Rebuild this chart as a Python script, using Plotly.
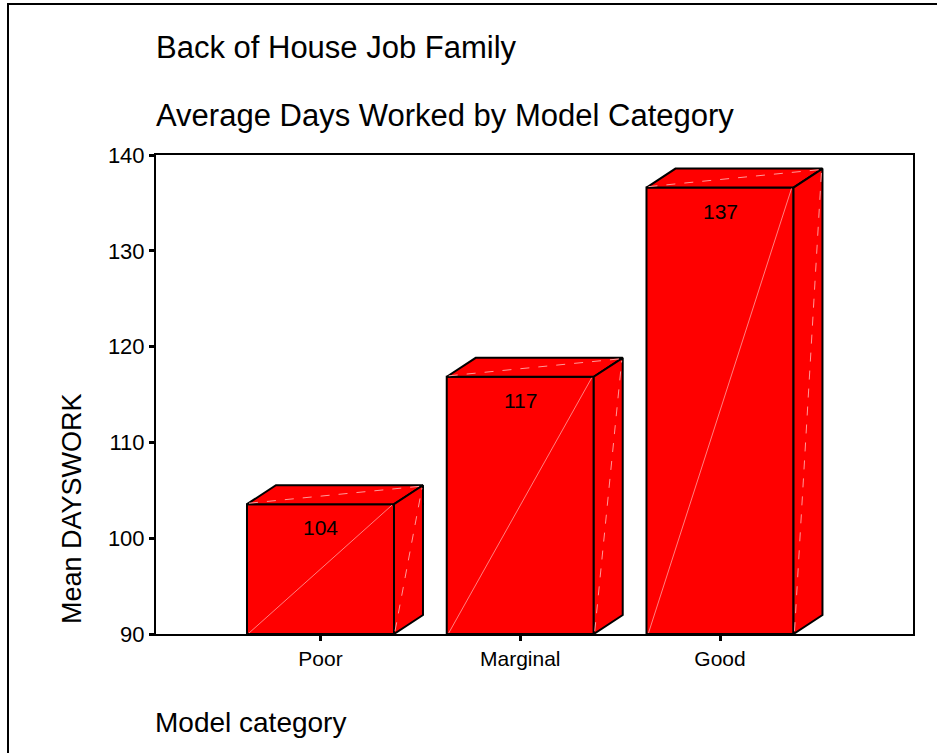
import plotly.graph_objects as go

# ---- data ----
categories = ["Poor", "Marginal", "Good"]
mean_days = [103.55, 116.85, 136.6]
bar_labels = ["104", "117", "137"]
y_ticks = [90, 100, 110, 120, 130, 140]

title1 = "Back of House Job Family"
title2 = "Average Days Worked by Model Category"
x_title = "Model category"
y_title = "Mean DAYSWORK"

# ---- style ----
FONT = "Liberation Sans, Arial, sans-serif"
RED = "#ff0000"
BASE = 90
Y_MAX = 140
HALF_W = 0.368      # half bar width in category units
DX = 0.145          # 3-D depth, x units
DY = 1.98           # 3-D depth, y units

W, H = 937, 753
L, R, T, B = 156, 24, 155, 119
PW, PH = W - L - R, H - T - B

def px_x(p):
    return (p - L) / PW

def px_y(p):
    return (H - B - p) / PH

fig = go.Figure()
xs = list(range(1, len(categories) + 1))

for xc, v in zip(xs, mean_days):
    x0, x1 = xc - HALF_W, xc + HALF_W
    # front face
    fig.add_trace(go.Scatter(
        x=[x0, x1, x1, x0, x0], y=[BASE, BASE, v, v, BASE],
        mode="lines", fill="toself", fillcolor=RED,
        line=dict(color="black", width=2), hoverinfo="skip", showlegend=False))
    # top face
    fig.add_trace(go.Scatter(
        x=[x0, x1, x1 + DX, x0 + DX, x0], y=[v, v, v + DY, v + DY, v],
        mode="lines", fill="toself", fillcolor=RED,
        line=dict(color="black", width=2), hoverinfo="skip", showlegend=False))
    # side face
    fig.add_trace(go.Scatter(
        x=[x1, x1 + DX, x1 + DX, x1, x1], y=[BASE, BASE + DY, v + DY, v, BASE],
        mode="lines", fill="toself", fillcolor=RED,
        line=dict(color="black", width=2), hoverinfo="skip", showlegend=False))
    # faint triangulation seams
    fig.add_trace(go.Scatter(
        x=[x0 + 0.01, x1 - 0.01], y=[BASE + 0.1, v - 0.1], mode="lines",
        line=dict(color="#ff8080", width=1), hoverinfo="skip", showlegend=False))
    fig.add_trace(go.Scatter(
        x=[x0 + 0.01, x1 + DX - 0.01], y=[v + 0.1, v + DY - 0.1], mode="lines",
        line=dict(color="#ff9a9a", width=1, dash="dash"), hoverinfo="skip", showlegend=False))
    fig.add_trace(go.Scatter(
        x=[x1 + 0.005, x1 + DX - 0.005], y=[BASE + 0.3, v + DY - 0.3], mode="lines",
        line=dict(color="#ff9a9a", width=1, dash="dash"), hoverinfo="skip", showlegend=False))

annotations = []
for xc, v, lab in zip(xs, mean_days, bar_labels):
    annotations.append(dict(
        x=xc, y=v, xref="x", yref="y", text=lab, showarrow=False,
        yanchor="top", yshift=-10, font=dict(family=FONT, size=21, color="black")))

annotations += [
    dict(text=title1, xref="paper", yref="paper", x=px_x(154), y=px_y(47),
         xanchor="left", yanchor="middle", showarrow=False,
         font=dict(family=FONT, size=31, color="black")),
    dict(text=title2, xref="paper", yref="paper", x=px_x(154), y=px_y(115),
         xanchor="left", yanchor="middle", showarrow=False,
         font=dict(family=FONT, size=31, color="black")),
    dict(text=x_title, xref="paper", yref="paper", x=px_x(153), y=px_y(722),
         xanchor="left", yanchor="middle", showarrow=False,
         font=dict(family=FONT, size=28, color="black")),
    dict(text=y_title, xref="paper", yref="paper", x=px_x(72), y=px_y(509),
         xanchor="center", yanchor="middle", showarrow=False, textangle=-90,
         font=dict(family=FONT, size=27, color="black")),
]

# outer frame (extends beyond the right/bottom of the picture)
shapes = [dict(type="rect", xref="paper", yref="paper",
               x0=px_x(8), x1=px_x(1000), y0=px_y(800), y1=px_y(4),
               line=dict(color="black", width=2), fillcolor="rgba(0,0,0,0)", layer="below")]

fig.update_layout(
    width=W, height=H,
    margin=dict(l=L, r=R, t=T, b=B, pad=0),
    paper_bgcolor="white", plot_bgcolor="white",
    font=dict(family=FONT, color="black"),
    annotations=annotations, shapes=shapes,
    xaxis=dict(
        range=[1 - (320.5 - L) / 199.75, 3 + (L + PW - 720) / 199.75],
        tickmode="array", tickvals=xs, ticktext=categories,
        ticks="outside", ticklen=5, tickwidth=3, tickcolor="black",
        showline=True, linecolor="black", linewidth=2, mirror=True,
        showgrid=False, zeroline=False, fixedrange=True,
        tickfont=dict(family=FONT, size=21, color="black")),
    yaxis=dict(
        range=[BASE, Y_MAX], tickmode="array", tickvals=y_ticks,
        ticks="outside", ticklen=5, tickwidth=3, tickcolor="black",
        showline=True, linecolor="black", linewidth=2, mirror=True,
        showgrid=False, zeroline=False, fixedrange=True,
        tickfont=dict(family=FONT, size=22, color="black")),
    showlegend=False,
)

fig.write_html("out.html")
